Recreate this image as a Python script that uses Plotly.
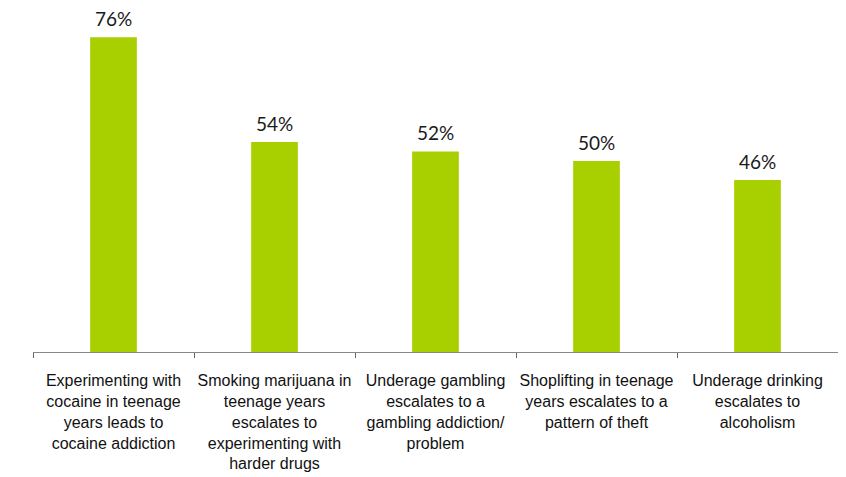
import plotly.graph_objects as go

categories = [
    "Experimenting with<br>cocaine in teenage<br>years leads to<br>cocaine addiction",
    "Smoking marijuana in<br>teenage years<br>escalates to<br>experimenting with<br>harder drugs",
    "Underage gambling<br>escalates to a<br>gambling addiction/<br>problem",
    "Shoplifting in teenage<br>years escalates to a<br>pattern of theft",
    "Underage drinking<br>escalates to<br>alcoholism",
]
values = [76, 54, 52, 50, 46]
value_labels = ["76%", "54%", "52%", "50%", "46%"]

fig = go.Figure(
    go.Bar(
        x=categories,
        y=values,
        cliponaxis=False,
        marker=dict(color="#A8D000", line=dict(width=0)),
        width=0.29,
        hoverinfo="x+y",
    )
)

for cat, val, lab in zip(categories, values, value_labels):
    fig.add_annotation(
        x=cat,
        y=val,
        text=lab,
        showarrow=False,
        yanchor="bottom",
        yshift=5,
        font=dict(family="Lato, DejaVu Sans, sans-serif", size=19, color="#1a1a1a"),
    )

fig.update_layout(
    width=846,
    height=477,
    margin=dict(l=25, r=16, t=12, b=133, autoexpand=False),
    plot_bgcolor="white",
    paper_bgcolor="white",
    showlegend=False,
    xaxis=dict(
        automargin=False,
        showline=True,
        linecolor="#888888",
        linewidth=1,
        ticks="outside",
        tickson="boundaries",
        ticklen=5,
        tickcolor="#666666",
        tickangle=0,
        tickfont=dict(family="Liberation Sans, Arial, sans-serif", size=16, color="#111111"),
        ticklabelstandoff=14,
    ),
    yaxis=dict(
        range=[9.9, 79.6],
        visible=False,
        showgrid=False,
        zeroline=False,
    ),
)

fig.write_html("out.html")
